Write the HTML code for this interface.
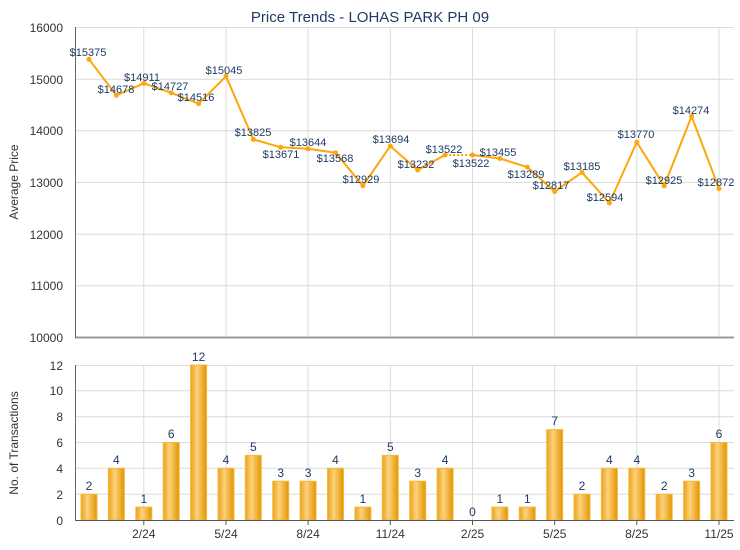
<!DOCTYPE html>
<html><head><meta charset="utf-8"><style>
html,body{margin:0;padding:0;background:#fff;}
svg{display:block;font-family:"Liberation Sans",Arial,sans-serif;}
</style></head><body>
<svg width="740" height="550" viewBox="0 0 740 550" xmlns="http://www.w3.org/2000/svg">
<defs>
<linearGradient id="bg" x1="0" x2="1" y1="0" y2="0">
<stop offset="0" stop-color="#eaa21a"/><stop offset="0.4" stop-color="#fdd27c"/><stop offset="1" stop-color="#e29400"/>
</linearGradient>
</defs>
<text x="370" y="22" text-anchor="middle" font-size="15" fill="#1f3a63">Price Trends - LOHAS PARK PH 09</text>
<!-- top grid -->
<g stroke="#dcdcdc" stroke-width="1">
<line x1="75" y1="27.5" x2="734" y2="27.5"/>
<line x1="75" y1="79.2" x2="734" y2="79.2"/>
<line x1="75" y1="130.8" x2="734" y2="130.8"/>
<line x1="75" y1="182.5" x2="734" y2="182.5"/>
<line x1="75" y1="234.2" x2="734" y2="234.2"/>
<line x1="75" y1="285.8" x2="734" y2="285.8"/>
<line x1="143.8" y1="27" x2="143.8" y2="337"/>
<line x1="226" y1="27" x2="226" y2="337"/>
<line x1="308.1" y1="27" x2="308.1" y2="337"/>
<line x1="390.3" y1="27" x2="390.3" y2="337"/>
<line x1="472.5" y1="27" x2="472.5" y2="337"/>
<line x1="554.7" y1="27" x2="554.7" y2="337"/>
<line x1="636.8" y1="27" x2="636.8" y2="337"/>
<line x1="719" y1="27" x2="719" y2="337"/>
</g>
<line x1="75" y1="337.5" x2="734" y2="337.5" stroke="#999" stroke-width="2"/>
<line x1="75.5" y1="27" x2="75.5" y2="338" stroke="#666" stroke-width="1"/>
<g font-size="12" fill="#333" text-anchor="end">
<text x="63" y="32">16000</text><text x="63" y="84">15000</text><text x="63" y="135">14000</text>
<text x="63" y="187">13000</text><text x="63" y="239">12000</text><text x="63" y="290">11000</text><text x="63" y="342">10000</text>
</g>
<text transform="translate(18,182) rotate(-90)" text-anchor="middle" font-size="12" fill="#333">Average Price</text>
<polyline fill="none" stroke="#fca70a" stroke-width="2" stroke-linejoin="round" points="89,59.3 116.4,95.3 143.8,83.3 171.2,92.8 198.6,103.7 226,76.3 253.3,139.4 280.7,147.3 308.1,148.7 335.5,152.7 362.9,185.7 390.3,146.1 417.7,170 445.1,155"/>
<line x1="445.1" y1="155" x2="472.5" y2="155" stroke="#fca70a" stroke-width="2" stroke-dasharray="2,2"/>
<polyline fill="none" stroke="#fca70a" stroke-width="2" stroke-linejoin="round" points="472.5,155 499.9,158.5 527.3,167.1 554.7,191.5 582,172.4 609.4,203 636.8,142.2 664.2,185.9 691.6,116.2 719,188.6"/>
<g fill="#fca70a">
<circle cx="89" cy="59.3" r="2.5"/><circle cx="116.4" cy="95.3" r="2.5"/><circle cx="143.8" cy="83.3" r="2.5"/><circle cx="171.2" cy="92.8" r="2.5"/><circle cx="198.6" cy="103.7" r="2.5"/><circle cx="226" cy="76.3" r="2.5"/><circle cx="253.3" cy="139.4" r="2.5"/><circle cx="280.7" cy="147.3" r="2.5"/><circle cx="308.1" cy="148.7" r="2.5"/><circle cx="335.5" cy="152.7" r="2.5"/><circle cx="362.9" cy="185.7" r="2.5"/><circle cx="390.3" cy="146.1" r="2.5"/><circle cx="417.7" cy="170" r="2.5"/><circle cx="445.1" cy="155" r="2.5"/><circle cx="472.5" cy="155" r="2.5"/><circle cx="499.9" cy="158.5" r="2.5"/><circle cx="527.3" cy="167.1" r="2.5"/><circle cx="554.7" cy="191.5" r="2.5"/><circle cx="582" cy="172.4" r="2.5"/><circle cx="609.4" cy="203" r="2.5"/><circle cx="636.8" cy="142.2" r="2.5"/><circle cx="664.2" cy="185.9" r="2.5"/><circle cx="691.6" cy="116.2" r="2.5"/><circle cx="719" cy="188.6" r="2.5"/>
</g>
<g font-size="11" fill="#1f3a63" text-anchor="middle">
<text x="88" y="56">$15375</text><text x="116" y="93">$14678</text><text x="142" y="81">$14911</text><text x="170" y="90">$14727</text>
<text x="196" y="101">$14516</text><text x="224" y="74">$15045</text><text x="253" y="136">$13825</text><text x="281" y="158">$13671</text>
<text x="308" y="146">$13644</text><text x="335" y="162">$13568</text><text x="361" y="183">$12929</text><text x="391" y="143">$13694</text>
<text x="416" y="168">$13232</text><text x="444" y="153">$13522</text><text x="471" y="167">$13522</text><text x="498" y="156">$13455</text>
<text x="526" y="178">$13289</text><text x="551" y="189">$12817</text><text x="582" y="170">$13185</text><text x="605" y="201">$12594</text>
<text x="636" y="138">$13770</text><text x="664" y="184">$12925</text><text x="691" y="114">$14274</text><text x="716" y="186">$12872</text>
</g>
<!-- bottom grid -->
<g stroke="#dcdcdc" stroke-width="1">
<line x1="75" y1="365.5" x2="734" y2="365.5"/>
<line x1="75" y1="390.8" x2="734" y2="390.8"/>
<line x1="75" y1="416.7" x2="734" y2="416.7"/>
<line x1="75" y1="442.5" x2="734" y2="442.5"/>
<line x1="75" y1="468.3" x2="734" y2="468.3"/>
<line x1="75" y1="494.2" x2="734" y2="494.2"/>
<line x1="143.8" y1="365" x2="143.8" y2="520"/>
<line x1="226" y1="365" x2="226" y2="520"/>
<line x1="308.1" y1="365" x2="308.1" y2="520"/>
<line x1="390.3" y1="365" x2="390.3" y2="520"/>
<line x1="472.5" y1="365" x2="472.5" y2="520"/>
<line x1="554.7" y1="365" x2="554.7" y2="520"/>
<line x1="636.8" y1="365" x2="636.8" y2="520"/>
<line x1="719" y1="365" x2="719" y2="520"/>
</g>
<g fill="url(#bg)" stroke="#f5b93a" stroke-width="1">
<rect x="81" y="494.2" width="16" height="25.8"/><rect x="108.4" y="468.3" width="16" height="51.7"/><rect x="135.8" y="507.1" width="16" height="12.9"/>
<rect x="163.2" y="442.5" width="16" height="77.5"/><rect x="190.6" y="365" width="16" height="155"/><rect x="218" y="468.3" width="16" height="51.7"/>
<rect x="245.3" y="455.4" width="16" height="64.6"/><rect x="272.7" y="481.2" width="16" height="38.8"/><rect x="300.1" y="481.2" width="16" height="38.8"/>
<rect x="327.5" y="468.3" width="16" height="51.7"/><rect x="354.9" y="507.1" width="16" height="12.9"/><rect x="382.3" y="455.4" width="16" height="64.6"/>
<rect x="409.7" y="481.2" width="16" height="38.8"/><rect x="437.1" y="468.3" width="16" height="51.7"/>
<rect x="491.9" y="507.1" width="16" height="12.9"/><rect x="519.3" y="507.1" width="16" height="12.9"/><rect x="546.7" y="429.6" width="16" height="90.4"/>
<rect x="574" y="494.2" width="16" height="25.8"/><rect x="601.4" y="468.3" width="16" height="51.7"/><rect x="628.8" y="468.3" width="16" height="51.7"/>
<rect x="656.2" y="494.2" width="16" height="25.8"/><rect x="683.6" y="481.2" width="16" height="38.8"/><rect x="711" y="442.5" width="16" height="77.5"/>
</g>
<g font-size="12" fill="#1f3a63" text-anchor="middle">
<text x="89" y="490">2</text><text x="116.4" y="464">4</text><text x="143.8" y="503">1</text><text x="171.2" y="438">6</text>
<text x="198.6" y="361">12</text><text x="226" y="464">4</text><text x="253.3" y="451">5</text><text x="280.7" y="477">3</text>
<text x="308.1" y="477">3</text><text x="335.5" y="464">4</text><text x="362.9" y="503">1</text><text x="390.3" y="451">5</text>
<text x="417.7" y="477">3</text><text x="445.1" y="464">4</text><text x="472.5" y="516">0</text><text x="499.9" y="503">1</text>
<text x="527.3" y="503">1</text><text x="554.7" y="425">7</text><text x="582" y="490">2</text><text x="609.4" y="464">4</text>
<text x="636.8" y="464">4</text><text x="664.2" y="490">2</text><text x="691.6" y="477">3</text><text x="719" y="438">6</text>
</g>
<line x1="75" y1="520.5" x2="734" y2="520.5" stroke="#555" stroke-width="1"/>
<line x1="75.5" y1="365" x2="75.5" y2="521" stroke="#666" stroke-width="1"/>
<g stroke="#555"><line x1="143.8" y1="520" x2="143.8" y2="525"/><line x1="226" y1="520" x2="226" y2="525"/><line x1="308.1" y1="520" x2="308.1" y2="525"/><line x1="390.3" y1="520" x2="390.3" y2="525"/><line x1="472.5" y1="520" x2="472.5" y2="525"/><line x1="554.7" y1="520" x2="554.7" y2="525"/><line x1="636.8" y1="520" x2="636.8" y2="525"/><line x1="719" y1="520" x2="719" y2="525"/></g>
<g font-size="12" fill="#333" text-anchor="end">
<text x="63" y="370">12</text><text x="63" y="395">10</text><text x="63" y="421">8</text><text x="63" y="447">6</text>
<text x="63" y="473">4</text><text x="63" y="499">2</text><text x="63" y="525">0</text>
</g>
<text transform="translate(18,443) rotate(-90)" text-anchor="middle" font-size="12" fill="#333">No. of Transactions</text>
<g font-size="12" fill="#333" text-anchor="middle">
<text x="143.8" y="538">2/24</text><text x="226" y="538">5/24</text><text x="308.1" y="538">8/24</text><text x="390.3" y="538">11/24</text>
<text x="472.5" y="538">2/25</text><text x="554.7" y="538">5/25</text><text x="636.8" y="538">8/25</text><text x="719" y="538">11/25</text>
</g>
</svg>
</body></html>
